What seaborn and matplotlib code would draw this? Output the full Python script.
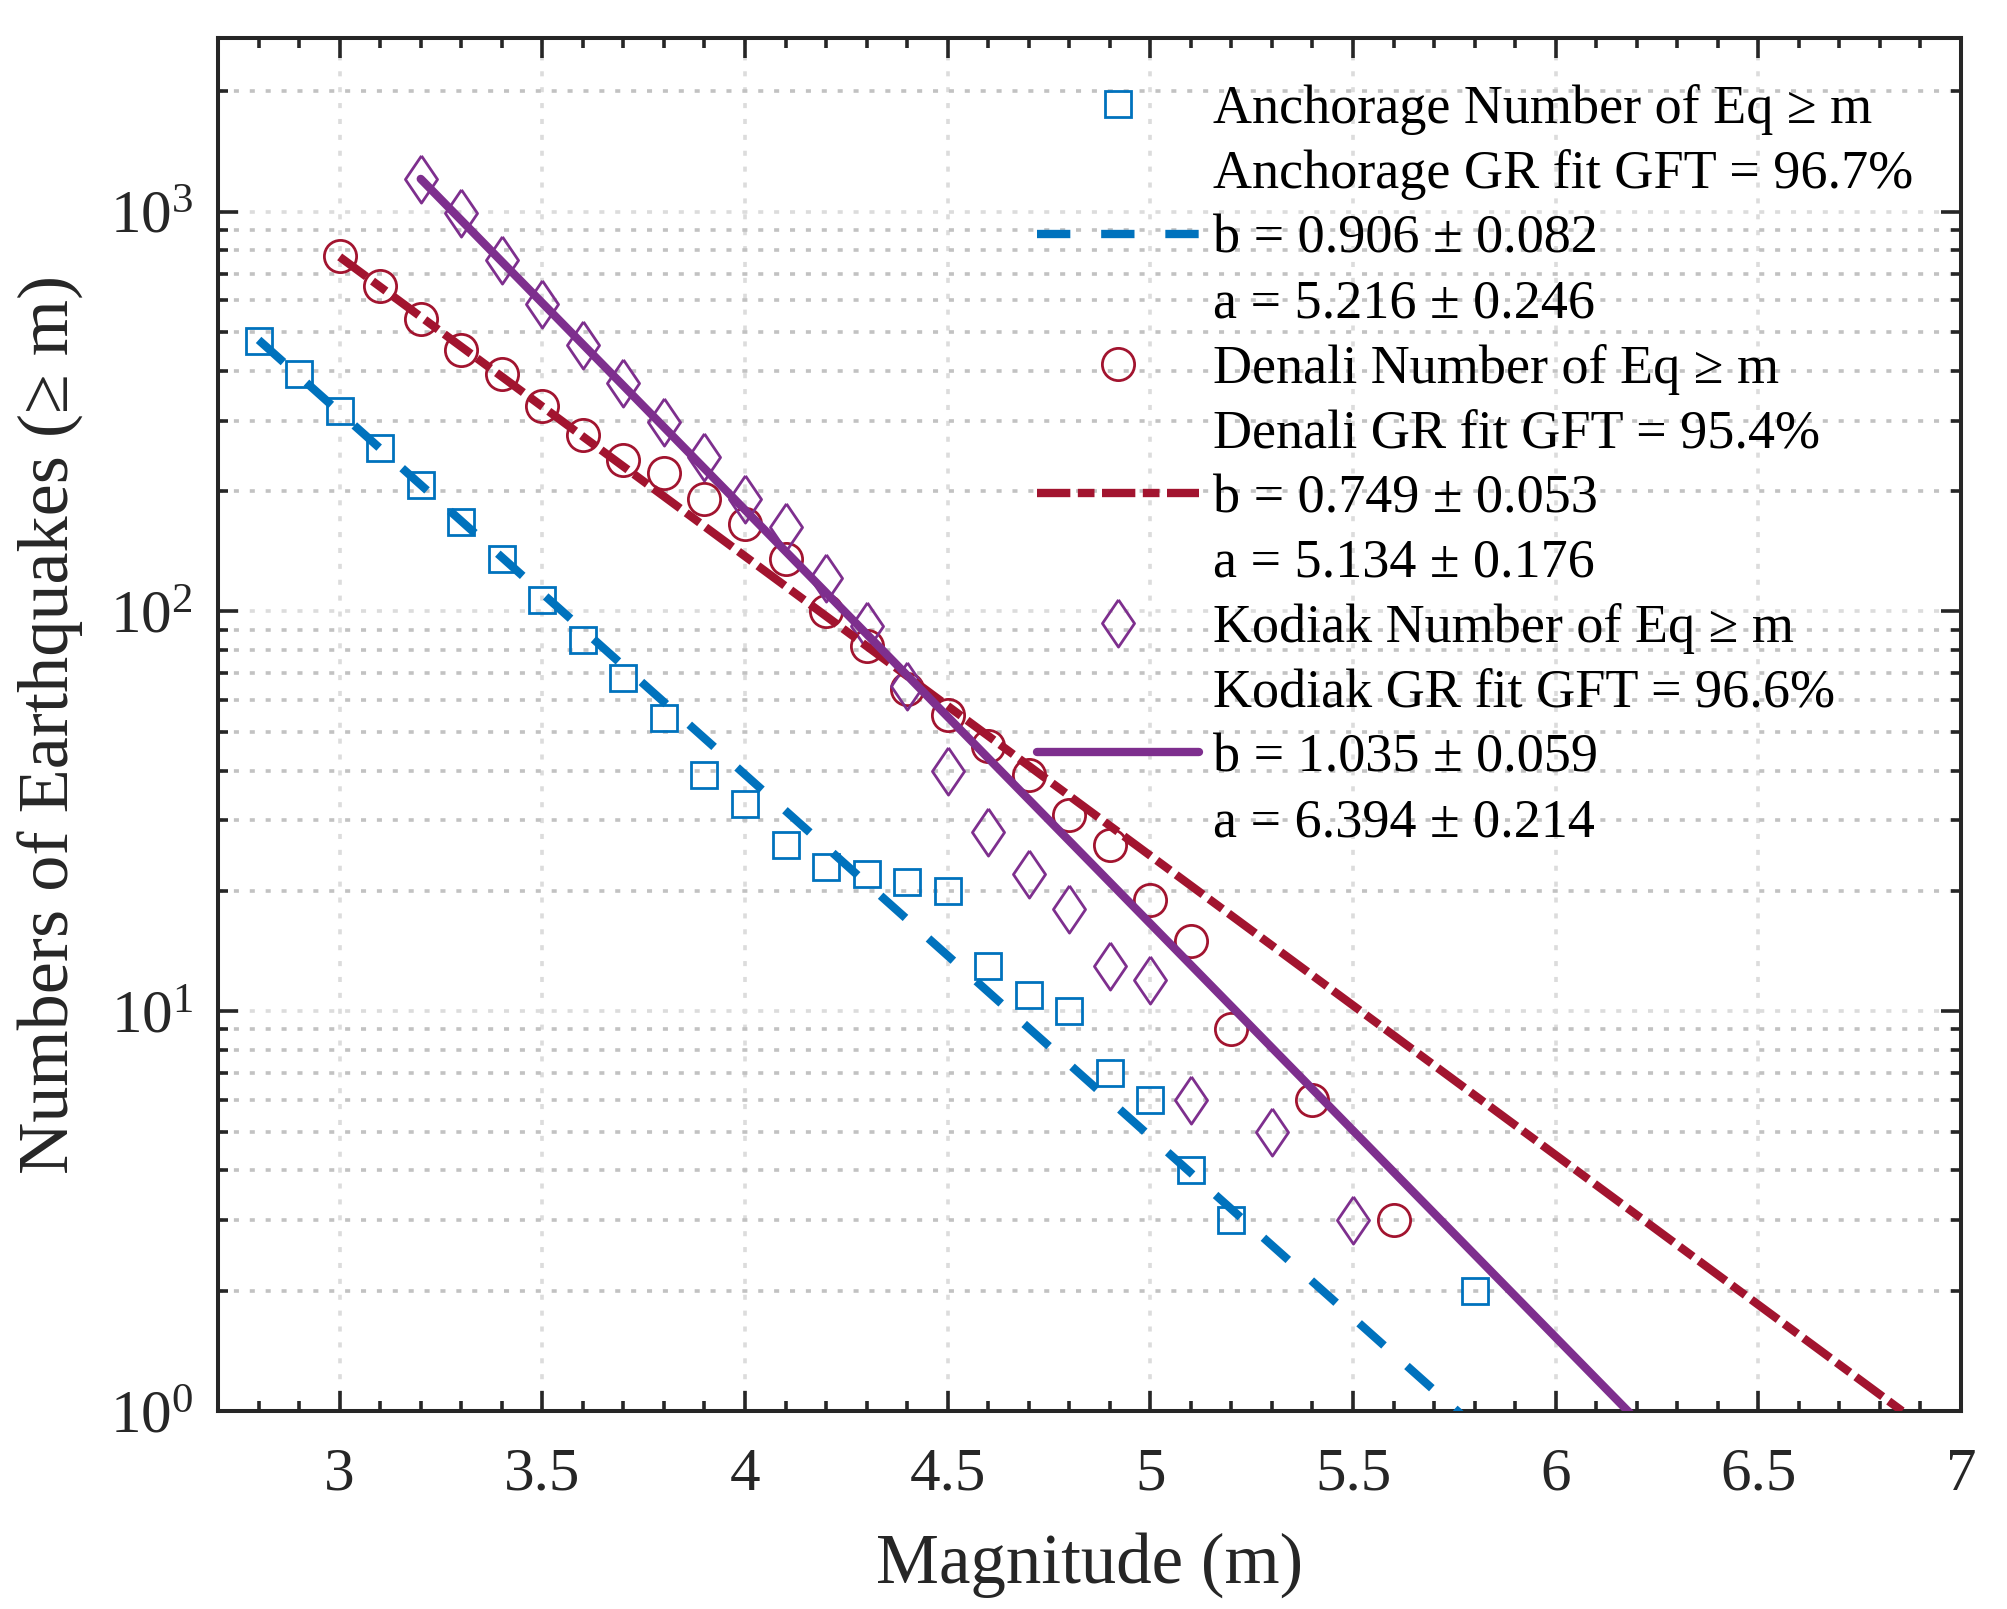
import matplotlib

matplotlib.use("Agg")
import matplotlib.pyplot as plt
import numpy as np
import pandas as pd
import seaborn as sns
from matplotlib.lines import Line2D
from matplotlib.ticker import FuncFormatter, LogLocator, MultipleLocator, NullFormatter

# ---------------------------------------------------------------------------
# Data (cumulative counts N(>= m))
# ---------------------------------------------------------------------------

anc_mag = [2.8, 2.9, 3.0, 3.1, 3.2, 3.3, 3.4, 3.5, 3.6, 3.7, 3.8, 3.9, 4.0,
           4.1, 4.2, 4.3, 4.4, 4.5, 4.6, 4.7, 4.8, 4.9, 5.0, 5.1, 5.2, 5.8]
anc_count = [475, 392, 317, 257, 207, 167, 135, 107, 85, 68, 54, 39, 33,
             26, 23, 22, 21, 20, 13, 11, 10, 7, 6, 4, 3, 2]

den_mag = [3.0, 3.1, 3.2, 3.3, 3.4, 3.5, 3.6, 3.7, 3.8, 3.9, 4.0, 4.1, 4.2,
           4.3, 4.4, 4.5, 4.6, 4.7, 4.8, 4.9, 5.0, 5.1, 5.2, 5.4, 5.6]
den_count = [775, 650, 538, 452, 392, 326, 277, 239, 222, 191, 165, 135, 100,
             82, 64, 55, 46, 39, 31, 26, 19, 15, 9, 6, 3]

kod_mag = [3.2, 3.3, 3.4, 3.5, 3.6, 3.7, 3.8, 3.9, 4.0, 4.1, 4.2, 4.3, 4.4,
           4.5, 4.6, 4.7, 4.8, 4.9, 5.0, 5.1, 5.3, 5.5]
kod_count = [1210, 993, 756, 588, 464, 372, 298, 243, 191, 163, 121, 92, 65,
             40, 28, 22, 18, 13, 12, 6, 5, 3]

# Gutenberg-Richter fits: log10 N = a - b m
regions = ["Anchorage", "Denali", "Kodiak"]
fit_a = [5.216, 5.134, 6.394]
fit_a_err = [0.246, 0.176, 0.214]
fit_b = [0.906, 0.749, 1.035]
fit_b_err = [0.082, 0.053, 0.059]
fit_gft = [96.7, 95.4, 96.6]
fit_start = [2.8, 3.0, 3.2]
fit_end = 7.0

# ---------------------------------------------------------------------------
# Style
# ---------------------------------------------------------------------------

sns.set_theme(style="ticks")
plt.rcParams["font.family"] = ["Liberation Serif", "DejaVu Serif"]
plt.rcParams["mathtext.fontset"] = "custom"
plt.rcParams["mathtext.rm"] = "Liberation Serif"
plt.rcParams["mathtext.it"] = "Liberation Serif"
plt.rcParams["axes.unicode_minus"] = False

colors = ["#0072BD", "#A2142F", "#7E2F8E"]
diamond = [(0, 1), (0.68, 0), (0, -1), (-0.68, 0), (0, 1)]
markers = ["s", "o", diamond]
marker_sizes = [9.1, 11.6, 17.0]
fit_lw = 3.0
fit_dashes = [(0, (4.0, 3.7)), (0, (4.0, 0.9, 2.0, 0.9)), "-"]
dark = "#262626"

fig = plt.figure(figsize=(10.04, 8.045), dpi=200)
ax = fig.add_axes([0.1086, 0.1231, 0.868, 0.8533])

data = [
    pd.DataFrame({"m": anc_mag, "n": anc_count}),
    pd.DataFrame({"m": den_mag, "n": den_count}),
    pd.DataFrame({"m": kod_mag, "n": kod_count}),
]

handles, labels = [], []
blank = Line2D([], [], linestyle="none", marker=None)

for i, region in enumerate(regions):
    sns.lineplot(
        data=data[i], x="m", y="n", ax=ax, estimator=None, sort=False,
        linestyle="none", marker=markers[i], markersize=marker_sizes[i],
        markerfacecolor="none", markeredgecolor=colors[i],
        markeredgewidth=1.0, color=colors[i], zorder=3,
    )
    m_fit = np.array([fit_start[i], fit_end])
    n_fit = 10 ** (fit_a[i] - fit_b[i] * m_fit)
    sns.lineplot(
        x=m_fit, y=n_fit, ax=ax, estimator=None, sort=False,
        color=colors[i], linewidth=fit_lw, linestyle=fit_dashes[i], zorder=4,
    )

    handles += [
        Line2D([], [], linestyle="none", marker=markers[i], markersize=marker_sizes[i],
               markerfacecolor="none", markeredgecolor=colors[i], markeredgewidth=1.0),
        blank,
        Line2D([], [], color=colors[i], linewidth=fit_lw, linestyle=fit_dashes[i]),
        blank,
    ]
    labels += [
        f"{region} Number of Eq \u2265 m",
        f"{region} GR fit GFT = {fit_gft[i]:.1f}%",
        f"b = {fit_b[i]:.3f} \u00b1 {fit_b_err[i]:.3f}",
        f"a = {fit_a[i]:.3f} \u00b1 {fit_a_err[i]:.3f}",
    ]

# ---------------------------------------------------------------------------
# Axes
# ---------------------------------------------------------------------------

ax.set_yscale("log")
ax.set_xlim(2.7, 7.0)
ax.set_ylim(1, 2720)

ax.xaxis.set_major_locator(MultipleLocator(0.5))
ax.xaxis.set_minor_locator(MultipleLocator(0.1))
ax.xaxis.set_major_formatter(FuncFormatter(lambda v, p: f"{v:g}"))
ax.yaxis.set_major_locator(LogLocator(base=10, numticks=10))
ax.yaxis.set_minor_locator(LogLocator(base=10, subs=np.arange(2, 10), numticks=20))
ax.yaxis.set_minor_formatter(NullFormatter())

ax.set_axisbelow(True)
ax.grid(which="major", axis="both", color="#dcdcdc", linestyle=(0, (1.4, 3.0)), linewidth=1.3)
ax.grid(which="minor", axis="y", color="#c2c2c2", linestyle=(0, (1.4, 3.0)), linewidth=1.3)

for side in ["left", "right", "top", "bottom"]:
    ax.spines[side].set_visible(True)
    ax.spines[side].set_linewidth(1.45)
    ax.spines[side].set_color(dark)

ax.tick_params(which="both", direction="in", top=True, right=True,
               width=1.3, color=dark, labelcolor=dark, labelsize=22)
ax.tick_params(which="major", length=7.2)
ax.tick_params(which="minor", length=3.6)
ax.tick_params(axis="x", which="major", pad=13)
ax.tick_params(axis="y", which="major", pad=9)

ax.set_xlabel("Magnitude (m)", fontsize=25.5, color=dark)
ax.set_ylabel("Numbers of Earthquakes (\u2265 m)", fontsize=26, color=dark)
ax.xaxis.set_label_coords(0.5, -0.088)
ax.yaxis.set_label_coords(-0.077, 0.5)

leg = ax.legend(
    handles, labels, loc="upper left", bbox_to_anchor=(0.5164, 0.9478),
    bbox_transform=fig.transFigure, frameon=False, fontsize=19.5,
    handlelength=3.0, handletextpad=0.25, labelspacing=0.262,
    borderpad=0, borderaxespad=0,
)
for t in leg.get_texts():
    t.set_color("black")

fig.savefig("out.png", dpi=200)
plt.close(fig)
